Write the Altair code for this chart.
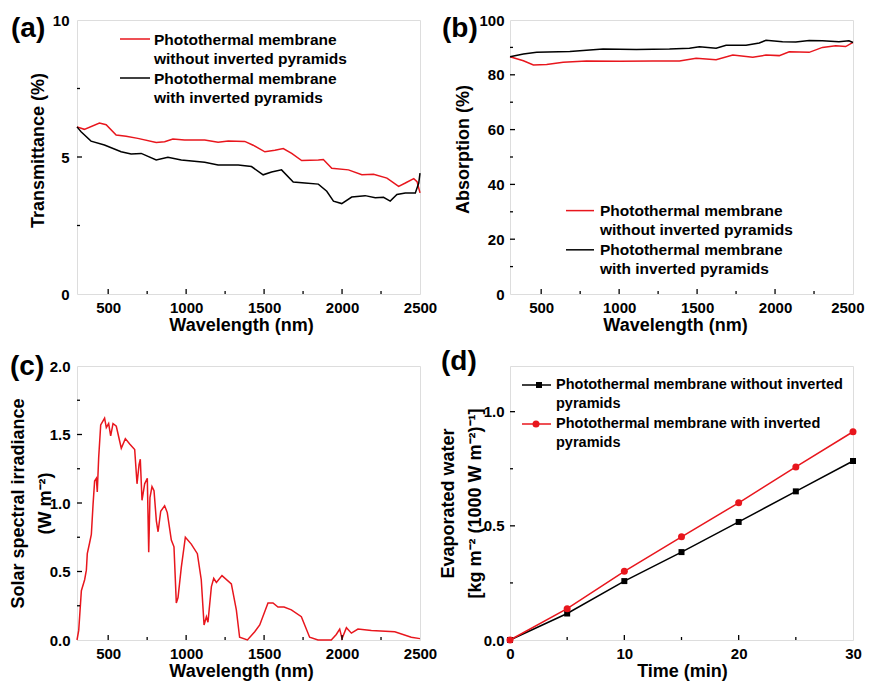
import altair as alt
import pandas as pd

FONT = "Liberation Sans"
RED = "#e8161d"
BLK = "#000000"

# ---------------- data ----------------
# (a) transmittance
a_red_wl = [300, 347, 444, 487, 551, 615, 690, 808, 862, 915, 990, 1119, 1205, 1270, 1376, 1430, 1505,
            1569, 1623, 1677, 1741, 1848, 1880, 1934, 2041, 2127, 2202, 2288, 2363, 2406, 2460, 2481, 2500]
a_red_t = [6.10, 6.01, 6.24, 6.18, 5.80, 5.76, 5.68, 5.53, 5.56, 5.66, 5.62, 5.62, 5.54, 5.58, 5.57, 5.43, 5.19,
           5.25, 5.31, 5.13, 4.87, 4.89, 4.91, 4.59, 4.53, 4.35, 4.37, 4.23, 3.93, 4.05, 4.21, 4.10, 3.69]
a_blk_wl = [300, 326, 390, 476, 583, 647, 712, 808, 883, 969, 1119, 1205, 1334, 1419, 1494, 1548, 1612,
            1687, 1762, 1848, 1902, 1945, 1998, 2062, 2148, 2213, 2266, 2309, 2352, 2406, 2470, 2492, 2500]
a_blk_t = [6.10, 5.92, 5.58, 5.44, 5.19, 5.11, 5.13, 4.89, 4.99, 4.89, 4.81, 4.71, 4.71, 4.65, 4.35, 4.45, 4.53,
           4.09, 4.05, 4.01, 3.75, 3.39, 3.30, 3.54, 3.59, 3.51, 3.53, 3.39, 3.63, 3.69, 3.69, 4.05, 4.41]

# (b) absorption
b_red_wl = [300, 386, 450, 535, 641, 790, 1003, 1217, 1387, 1494, 1622, 1729, 1857, 1942, 2027, 2091, 2219,
            2304, 2389, 2453, 2500]
b_red_a = [86.6, 85.1, 83.6, 83.8, 84.6, 85.0, 84.9, 85.0, 85.0, 86.0, 85.5, 87.2, 86.4, 87.2, 87.0, 88.4, 88.2,
           90.0, 90.6, 90.3, 91.8]
b_blk_wl = [300, 386, 471, 684, 897, 1110, 1323, 1451, 1515, 1622, 1686, 1814, 1899, 1942, 2048, 2133, 2219,
            2304, 2410, 2474, 2500]
b_blk_a = [86.6, 87.6, 88.2, 88.5, 89.4, 89.2, 89.4, 89.7, 90.2, 89.7, 90.8, 90.8, 91.6, 92.6, 92.1, 92.0, 92.5,
           92.4, 92.1, 92.4, 91.8]

# (c) solar spectral irradiance
c_wl = [300, 311, 328, 349, 360, 366, 381, 392, 403, 413, 424, 430, 439, 452, 467, 477, 488, 503, 516, 531,
        552, 584, 610, 638, 670, 685, 698, 706, 717, 734, 751, 760, 768, 781, 794, 809, 820, 837, 862, 879,
        905, 922, 937, 948, 969, 995, 1033, 1072, 1097, 1115, 1130, 1140, 1162, 1177, 1194, 1230, 1290, 1322,
        1343, 1393, 1440, 1472, 1525, 1557, 1589, 1628, 1675, 1739, 1792, 1846, 1931, 1963, 1985, 2000, 2028,
        2060, 2102, 2188, 2338, 2444, 2500]
c_irr = [0.0, 0.07, 0.36, 0.44, 0.51, 0.63, 0.71, 0.77, 0.99, 1.16, 1.18, 1.08, 1.33, 1.57, 1.60, 1.62, 1.55,
         1.58, 1.49, 1.58, 1.56, 1.40, 1.47, 1.43, 1.39, 1.14, 1.28, 1.32, 1.02, 1.14, 1.18, 0.64, 1.04, 1.12,
         1.09, 0.87, 0.79, 0.94, 0.98, 0.93, 0.73, 0.68, 0.27, 0.31, 0.53, 0.75, 0.70, 0.63, 0.44, 0.11, 0.17,
         0.13, 0.39, 0.45, 0.42, 0.47, 0.41, 0.22, 0.02, 0.0, 0.06, 0.11, 0.27, 0.27, 0.24, 0.24, 0.22, 0.17,
         0.02, 0.0, 0.0, 0.04, 0.08, 0.01, 0.09, 0.05, 0.08, 0.07, 0.06, 0.02, 0.01]

# (d) evaporated water
d_time = [0, 5, 10, 15, 20, 25, 30]
d_without = [0.0, 0.116, 0.258, 0.385, 0.517, 0.651, 0.784]
d_with = [0.0, 0.137, 0.301, 0.452, 0.601, 0.758, 0.912]

LEG1 = ["Photothermal membrane", "without inverted pyramids"]
LEG2 = ["Photothermal membrane", "with inverted pyramids"]
LEGD1 = ["Photothermal membrane without inverted", "pyramids"]
LEGD2 = ["Photothermal membrane with inverted", "pyramids"]

one = pd.DataFrame({"k": [0]})

W, H = 343, 274
ROW_GAP, COL_GAP = 72, 90
XLAB_OFF, XTITLE_OFF = 18, 36
K = H / 276.0  # vertical factor for in-plot annotations near the bottom


# ---------------- helpers ----------------
def x_axis(values, title, title_x, fmt="d", flush=False):
    extra = dict(labelFlush=True, labelFlushOffset=11) if flush else dict(labelFlush=False)
    return alt.Axis(values=values, title=title, format=fmt, domain=False, ticks=False, grid=False,
                    labelFont=FONT, labelFontSize=15, labelFontWeight="bold", labelColor=BLK,
                    labelBaseline="alphabetic", labelPadding=XLAB_OFF, labelOverlap=False,
                    titleFont=FONT, titleFontSize=18, titleFontWeight="bold", titleColor=BLK,
                    titleBaseline="alphabetic", titleAlign="center", titleX=title_x, titleY=XTITLE_OFF,
                    **extra)


def y_axis(values, title, title_x, title_y, fmt="d", pad=7):
    return alt.Axis(values=values, title=title, format=fmt, domain=False, ticks=False, grid=False,
                    labelFont=FONT, labelFontSize=15, labelFontWeight="bold", labelColor=BLK,
                    labelAlign="right", labelBaseline="middle", labelPadding=pad, labelFlush=False,
                    labelOverlap=False,
                    titleFont=FONT, titleFontSize=18, titleFontWeight="bold", titleColor=BLK,
                    titleBaseline="alphabetic", titleAlign="center", titleAngle=270,
                    titleX=title_x, titleY=title_y, titleLineHeight=27)


def tick_layers(xs, ys, xax, yax, xmaj, xmin, ymaj, ymin):
    layers = []
    for vals, sz in ((xmaj, 5), (xmin, 3)):
        df = pd.DataFrame({"x": vals})
        layers.append(alt.Chart(df).mark_rule(color=BLK, strokeWidth=1.3).encode(
            x=alt.X("x:Q", scale=xs, axis=xax), y=alt.value(H), y2=alt.value(H - sz)))
    for vals, sz in ((ymaj, 5), (ymin, 3)):
        df = pd.DataFrame({"y": vals})
        layers.append(alt.Chart(df).mark_rule(color=BLK, strokeWidth=1.3).encode(
            y=alt.Y("y:Q", scale=ys, axis=yax), x=alt.value(0), x2=alt.value(sz)))
    return layers


def text_at(x, y, txt, size):
    return alt.Chart(one).mark_text(align="left", baseline="alphabetic", font=FONT, fontSize=size,
                                    fontWeight="bold", color=BLK, lineHeight=19).encode(
        x=alt.value(x), y=alt.value(y), text=alt.value(txt))


def leg_line(x1, x2, y, color):
    return alt.Chart(one).mark_rule(color=color, strokeWidth=1.5).encode(
        x=alt.value(x1), x2=alt.value(x2), y=alt.value(y))


def series_line(xv, yv, color, xs, ys, xax, yax):
    df = pd.DataFrame({"x": xv, "y": yv})
    return alt.Chart(df).mark_line(color=color, strokeWidth=1.5).encode(
        x=alt.X("x:Q", scale=xs, axis=xax),
        y=alt.Y("y:Q", scale=ys, axis=yax))


xs_wl = alt.Scale(domain=[300, 2500], nice=False, zero=False)
WL_TICKS = [500, 1000, 1500, 2000, 2500]
MID = H / 2

# ---------------- panel (a) ----------------
ys_a = alt.Scale(domain=[0, 10], nice=False)
xa = x_axis(WL_TICKS, "Wavelength (nm)", 164)
ya = y_axis([0, 5, 10], "Transmittance (%)", -34, MID - 7, pad=8)
pa = alt.layer(
    series_line(a_red_wl, a_red_t, RED, xs_wl, ys_a, xa, ya),
    series_line(a_blk_wl, a_blk_t, BLK, xs_wl, ys_a, xa, ya),
    *tick_layers(xs_wl, ys_a, xa, ya, [500, 1000, 1500, 2000], [750, 1250, 1750, 2250], [5], [2.5, 7.5]),
    leg_line(43, 73, 19, RED), text_at(77, 25, LEG1, 15.5),
    leg_line(43, 73, 58, BLK), text_at(77, 64, LEG2, 15.5),
    text_at(-66, 17, "(a)", 28),
).properties(width=W, height=H)

# ---------------- panel (b) ----------------
ys_b = alt.Scale(domain=[0, 100], nice=False)
xb = x_axis(WL_TICKS, "Wavelength (nm)", 165, flush=True)
yb = y_axis([0, 20, 40, 60, 80, 100], "Absorption (%)", -42, MID - 8, pad=6)
pb = alt.layer(
    series_line(b_red_wl, b_red_a, RED, xs_wl, ys_b, xb, yb),
    series_line(b_blk_wl, b_blk_a, BLK, xs_wl, ys_b, xb, yb),
    *tick_layers(xs_wl, ys_b, xb, yb, [500, 1000, 1500, 2000], [750, 1250, 1750, 2250],
                 [20, 40, 60, 80], [10, 30, 50, 70, 90]),
    leg_line(56, 84, 192 * K, RED), text_at(90, 197.5 * K, LEG1, 15.5),
    leg_line(56, 84, 231.5 * K, BLK), text_at(90, 236.5 * K, LEG2, 15.5),
    text_at(-68, 17, "(b)", 28),
).properties(width=W, height=H)

# ---------------- panel (c) ----------------
ys_c = alt.Scale(domain=[0, 2], nice=False)
xc = x_axis(WL_TICKS, "Wavelength (nm)", 164)
yc = y_axis([0, 0.5, 1.0, 1.5, 2.0], ["Solar spectral irradiance", "(W m\u207b\u00b2)"], -54, MID,
            fmt=".1f", pad=7)
pc = alt.layer(
    series_line(c_wl, c_irr, RED, xs_wl, ys_c, xc, yc),
    *tick_layers(xs_wl, ys_c, xc, yc, [500, 1000, 1500, 2000], [750, 1250, 1750, 2250],
                 [0.5, 1.0, 1.5], [0.25, 0.75, 1.25, 1.75]),
    text_at(-67, 9, "(c)", 28),
).properties(width=W, height=H)

# ---------------- panel (d) ----------------
xs_t = alt.Scale(domain=[0, 30], nice=False, zero=False)
ys_d = alt.Scale(domain=[0, 1.2], nice=False)
xd = x_axis([0, 10, 20, 30], "Time (min)", 172)
yd = y_axis([0, 0.5, 1.0], ["Evaporated water", "[kg m\u207b\u00b2 (1000 W m\u207b\u00b2)\u207b\u00b9]"],
            -57, MID, fmt=".1f", pad=6)
df_wo = pd.DataFrame({"x": d_time, "y": d_without})
df_wi = pd.DataFrame({"x": d_time, "y": d_with})
enc = dict(x=alt.X("x:Q", scale=xs_t, axis=xd), y=alt.Y("y:Q", scale=ys_d, axis=yd))
pdd = alt.layer(
    alt.Chart(df_wo).mark_line(color=BLK, strokeWidth=1.5).encode(**enc),
    alt.Chart(df_wi).mark_line(color=RED, strokeWidth=1.5).encode(**enc),
    alt.Chart(df_wo).mark_point(shape="square", filled=True, size=36, color=BLK, opacity=1).encode(**enc),
    alt.Chart(df_wi).mark_point(shape="circle", filled=True, size=49, color=RED, opacity=1).encode(**enc),
    *tick_layers(xs_t, ys_d, xd, yd, [10, 20], [5, 15, 25], [0.5, 1.0], [0.25, 0.75]),
    leg_line(12, 41, 19, BLK),
    alt.Chart(one).mark_point(shape="square", filled=True, size=36, color=BLK, opacity=1).encode(
        x=alt.value(29), y=alt.value(19)),
    text_at(46, 23, LEGD1, 14.5),
    leg_line(12, 41, 58, RED),
    alt.Chart(one).mark_point(shape="circle", filled=True, size=49, color=RED, opacity=1).encode(
        x=alt.value(26), y=alt.value(58)),
    text_at(46, 62, LEGD2, 14.5),
    text_at(-69, 4, "(d)", 28),
).properties(width=W, height=H)

chart = alt.concat(pa, pb, pc, pdd, columns=2, spacing={"row": ROW_GAP, "column": COL_GAP},
                   bounds="flush").properties(
    padding={"left": 0, "top": 4, "right": 0, "bottom": 0}
).configure_view(stroke=BLK, strokeWidth=1.5).configure(font=FONT, background="white")

chart.save("out.html", embed_options={"renderer": "svg", "actions": False})
